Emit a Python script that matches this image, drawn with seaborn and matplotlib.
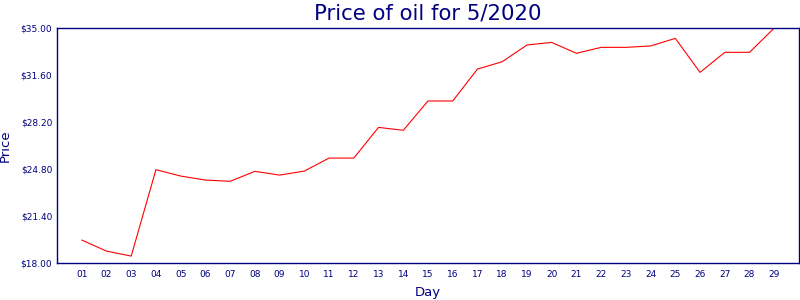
import matplotlib
matplotlib.use("Agg")
import matplotlib.pyplot as plt
import seaborn as sns
import pandas as pd

days = list(range(1, 30))
day_labels = [f"{d:02d}" for d in days]
prices = [19.66, 18.86, 18.5, 24.75, 24.29, 24.0, 23.91, 24.63, 24.36, 24.65,
          25.59, 25.59, 27.81, 27.6, 29.72, 29.72, 32.03, 32.56, 33.77, 33.96,
          33.17, 33.6, 33.6, 33.7, 34.25, 31.79, 33.24, 33.24, 35.0]
y_ticks = [18.0, 21.4, 24.8, 28.2, 31.6, 35.0]
y_tick_labels = [f"${v:.2f}" for v in y_ticks]

df = pd.DataFrame({"Day": days, "Price": prices})

sns.set_style("white")
plt.rcParams['font.family'] = ['DejaVu Sans']
navy = "#000080"

fig = plt.figure(figsize=(8, 3), dpi=100)
ax = fig.add_axes([57/800, 1 - 263/300, (799 - 57)/800, (263 - 28)/300])
sns.lineplot(data=df, x="Day", y="Price", ax=ax, color="red", linewidth=0.8)

ax.set_xlim(0, 30)
ax.set_ylim(18, 35)
ax.set_xticks(days)
ax.set_xticklabels(day_labels)
ax.set_yticks(y_ticks)
ax.set_yticklabels(y_tick_labels)
ax.tick_params(axis="both", direction="in", length=4, width=1, colors=navy,
               labelsize=6.5, labelcolor=navy)
ax.tick_params(axis="x", pad=5)
for s in ax.spines.values():
    s.set_color(navy)
    s.set_linewidth(1)
ax.set_xlabel("Day", color=navy, fontsize=9.5, labelpad=5)
ax.set_ylabel("Price", color=navy, fontsize=9.5, labelpad=6)
ax.set_title("Price of oil for 5/2020", color=navy, fontsize=15.3, pad=6)

fig.savefig("out.png", dpi=100)
